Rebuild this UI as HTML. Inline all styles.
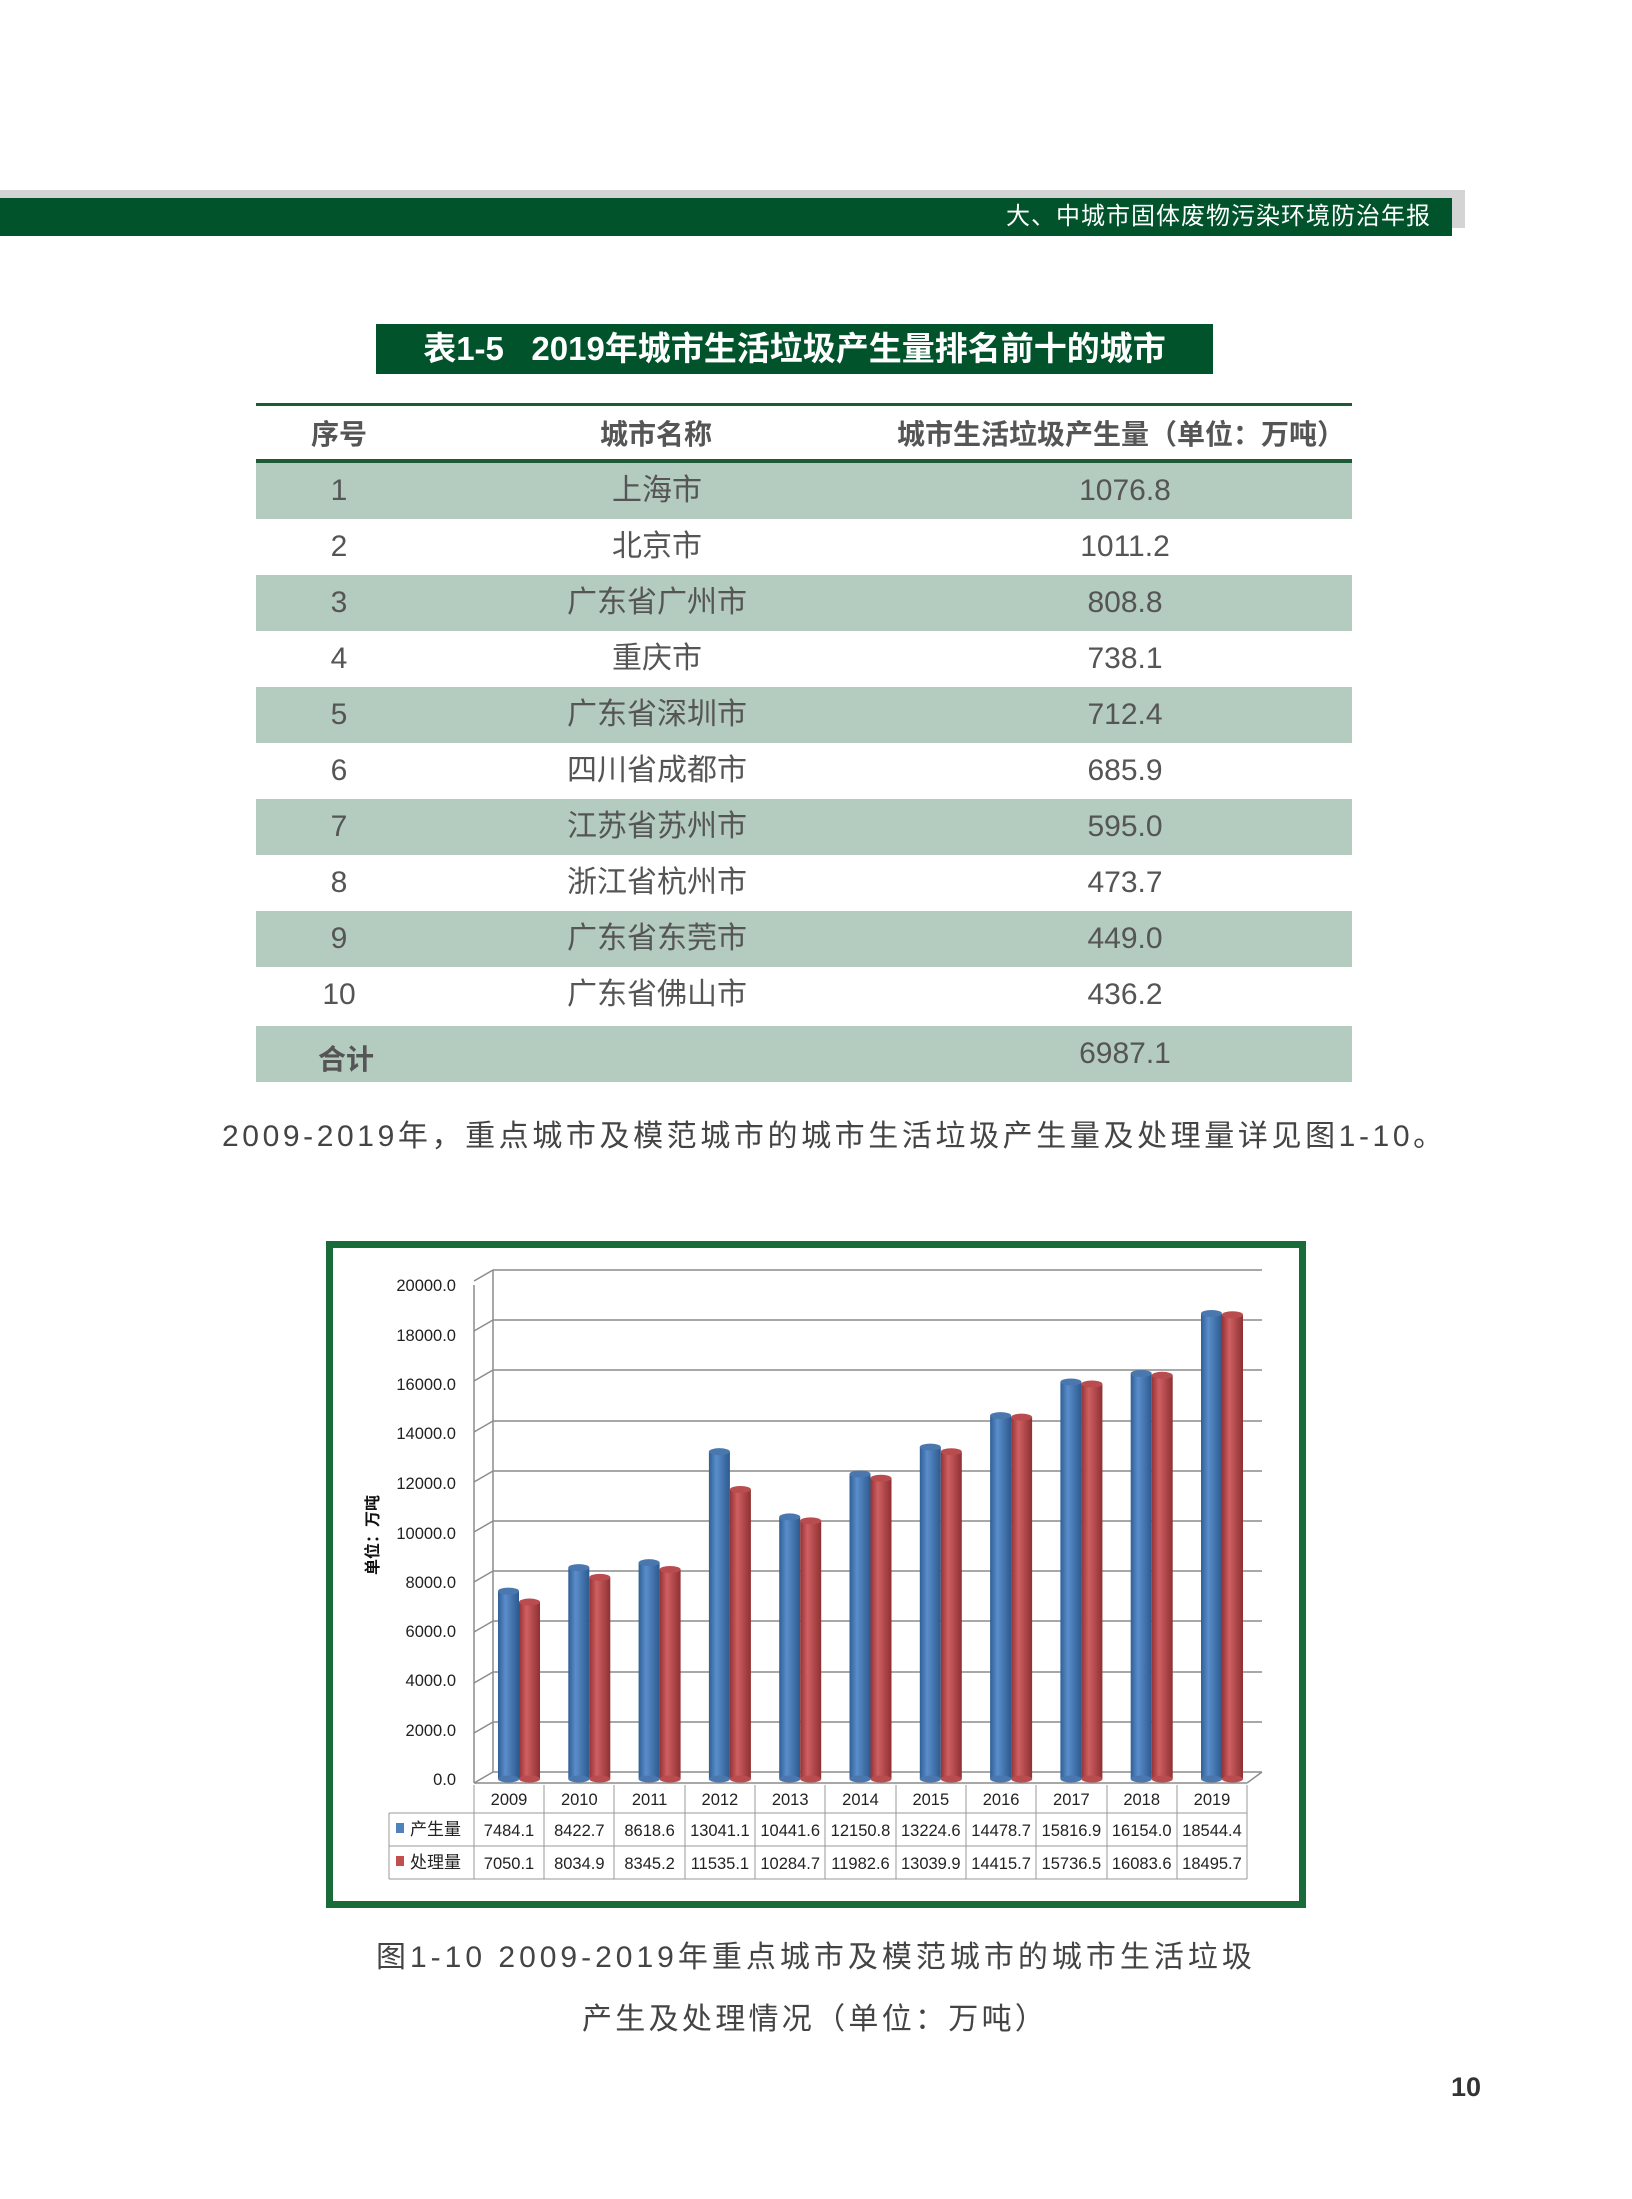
<!DOCTYPE html>
<html><head><meta charset="utf-8"><style>
body{margin:0;background:#fff;}
#p{position:relative;width:1632px;height:2199px;overflow:hidden;font-family:"Liberation Sans","Noto Sans CJK SC",sans-serif;}
.a{position:absolute;white-space:nowrap;}
.row{position:absolute;left:256px;width:1096px;height:56px;}
.g{background:#b4cbbf;}
.c{position:absolute;color:#555;font-size:30px;line-height:56px;text-align:center;}
</style></head><body><div id="p">
<div class="a" style="left:0;top:190px;width:1465px;height:38px;background:#d4d4d4"></div>
<div class="a" style="left:0;top:198px;width:1452px;height:38px;background:#00532b"></div>
<div class="a" style="left:960px;top:202px;width:471px;text-align:right;color:#fff;font-size:24px;letter-spacing:1px;line-height:30px">大、中城市固体废物污染环境防治年报</div>
<div class="a" style="left:376px;top:324px;width:837px;height:50px;background:#00532b;color:#fff;font-weight:bold;font-size:33px;line-height:50px;text-align:center">表1-5&nbsp;&nbsp;&nbsp;2019年城市生活垃圾产生量排名前十的城市</div>
<div class="a" style="left:256px;top:403px;width:1096px;height:3px;background:#1d5a36"></div>
<div class="a" style="left:256px;top:459px;width:1096px;height:4px;background:#1d5a36"></div>
<div class="row" style="top:407px"><div class="c" style="left:30px;width:106px;font-weight:bold;font-size:28px">序号</div><div class="c" style="left:300px;width:200px;font-weight:bold;font-size:28px">城市名称</div><div class="c" style="left:630px;width:470px;font-weight:bold;font-size:28px">城市生活垃圾产生量（单位：万吨）</div></div>
<div class="row g" style="top:463px"><div class="c" style="left:33px;width:100px">1</div><div class="c" style="left:301px;width:200px">上海市</div><div class="c" style="left:769px;width:200px">1076.8</div></div>
<div class="row" style="top:519px"><div class="c" style="left:33px;width:100px">2</div><div class="c" style="left:301px;width:200px">北京市</div><div class="c" style="left:769px;width:200px">1011.2</div></div>
<div class="row g" style="top:575px"><div class="c" style="left:33px;width:100px">3</div><div class="c" style="left:301px;width:200px">广东省广州市</div><div class="c" style="left:769px;width:200px">808.8</div></div>
<div class="row" style="top:631px"><div class="c" style="left:33px;width:100px">4</div><div class="c" style="left:301px;width:200px">重庆市</div><div class="c" style="left:769px;width:200px">738.1</div></div>
<div class="row g" style="top:687px"><div class="c" style="left:33px;width:100px">5</div><div class="c" style="left:301px;width:200px">广东省深圳市</div><div class="c" style="left:769px;width:200px">712.4</div></div>
<div class="row" style="top:743px"><div class="c" style="left:33px;width:100px">6</div><div class="c" style="left:301px;width:200px">四川省成都市</div><div class="c" style="left:769px;width:200px">685.9</div></div>
<div class="row g" style="top:799px"><div class="c" style="left:33px;width:100px">7</div><div class="c" style="left:301px;width:200px">江苏省苏州市</div><div class="c" style="left:769px;width:200px">595.0</div></div>
<div class="row" style="top:855px"><div class="c" style="left:33px;width:100px">8</div><div class="c" style="left:301px;width:200px">浙江省杭州市</div><div class="c" style="left:769px;width:200px">473.7</div></div>
<div class="row g" style="top:911px"><div class="c" style="left:33px;width:100px">9</div><div class="c" style="left:301px;width:200px">广东省东莞市</div><div class="c" style="left:769px;width:200px">449.0</div></div>
<div class="row" style="top:967px"><div class="c" style="left:33px;width:100px">10</div><div class="c" style="left:301px;width:200px">广东省佛山市</div><div class="c" style="left:769px;width:200px">436.2</div></div>
<div class="row g" style="top:1026px"><div class="c" style="left:40px;width:100px;font-weight:bold;font-size:28px;top:6px">合计</div><div class="c" style="left:769px;width:200px">6987.1</div></div>
<div class="a" style="left:222px;top:1117px;font-size:30px;color:#444;line-height:40px;letter-spacing:3.6px">2009-2019年，重点城市及模范城市的城市生活垃圾产生量及处理量详见图1-10。</div>

<svg class="a" style="left:0;top:0" width="1632" height="2199" viewBox="0 0 1632 2199" font-family="Liberation Sans, Noto Sans CJK SC, sans-serif">
<defs>
<linearGradient id="b" x1="0" x2="1"><stop offset="0" stop-color="#2f5f96"/><stop offset="0.35" stop-color="#5a8dcb"/><stop offset="1" stop-color="#2d5a8e"/></linearGradient>
<linearGradient id="r" x1="0" x2="1"><stop offset="0" stop-color="#943335"/><stop offset="0.35" stop-color="#cf5f62"/><stop offset="1" stop-color="#8e3032"/></linearGradient>
</defs>
<rect x="329.5" y="1244.5" width="973" height="660" fill="#fff" stroke="#1a6b3a" stroke-width="7"/>
<g stroke="#8c8c8c" stroke-width="1.5" fill="none">
<path d="M474 1285V1783M493 1270V1772"/>
<path d="M493 1772H1262M474 1783L493 1772M1247 1783L1262 1772M474 1783H1247"/>
<path d="M493 1270H1262M474 1281L493 1270"/>
<path d="M493 1320H1262M474 1331L493 1320"/>
<path d="M493 1370H1262M474 1381L493 1370"/>
<path d="M493 1421H1262M474 1432L493 1421"/>
<path d="M493 1471H1262M474 1482L493 1471"/>
<path d="M493 1521H1262M474 1532L493 1521"/>
<path d="M493 1571H1262M474 1582L493 1571"/>
<path d="M493 1621H1262M474 1632L493 1621"/>
<path d="M493 1672H1262M474 1683L493 1672"/>
<path d="M493 1722H1262M474 1733L493 1722"/>
</g>
<g font-size="16.5" fill="#222" text-anchor="end">
<text x="456" y="1291">20000.0</text><text x="456" y="1341">18000.0</text><text x="456" y="1390">16000.0</text><text x="456" y="1439">14000.0</text><text x="456" y="1489">12000.0</text><text x="456" y="1539">10000.0</text><text x="456" y="1588">8000.0</text><text x="456" y="1637">6000.0</text><text x="456" y="1686">4000.0</text><text x="456" y="1736">2000.0</text><text x="456" y="1785">0.0</text>
</g>
<text transform="translate(378 1535) rotate(-90)" font-size="16" font-weight="bold" text-anchor="middle" fill="#111">单位：万吨</text>
<g id="bars"></g>
<g stroke="#999" stroke-width="1" fill="none">
<path d="M474 1785V1879M389 1813H1247M389 1846H1247M389 1879H1247M389 1813V1879M1247 1785V1879"/>
<path d="M544 1785V1879M614 1785V1879M685 1785V1879M755 1785V1879M825 1785V1879M896 1785V1879M966 1785V1879M1036 1785V1879M1107 1785V1879M1177 1785V1879"/>
</g>
<g font-size="16.5" fill="#222" text-anchor="middle" id="tbl"></g>
<rect x="396" y="1823" width="8" height="10" fill="#4f81bd"/><text x="410" y="1835" font-size="17" fill="#222">产生量</text>
<rect x="396" y="1856" width="8" height="10" fill="#c0504d"/><text x="410" y="1868" font-size="17" fill="#222">处理量</text>
</svg>
<div class="a" style="left:376px;top:1938px;font-size:30px;color:#444;line-height:40px;letter-spacing:4px">图1-10 2009-2019年重点城市及模范城市的城市生活垃圾</div>
<div class="a" style="left:582px;top:2000px;font-size:30px;color:#444;line-height:40px;letter-spacing:3.3px">产生及处理情况（单位：万吨）</div>
<div class="a" style="left:1451px;top:2072px;font-size:27px;font-weight:bold;color:#333">10</div>
<script>
var P=[7484.1,8422.7,8618.6,13041.1,10441.6,12150.8,13224.6,14478.7,15816.9,16154.0,18544.4];
var T=[7050.1,8034.9,8345.2,11535.1,10284.7,11982.6,13039.9,14415.7,15736.5,16083.6,18495.7];
var ns="http://www.w3.org/2000/svg",g=document.getElementById('bars'),t=document.getElementById('tbl');
function el(p,n,a,txt){var e=document.createElementNS(ns,n);for(var k in a)e.setAttribute(k,a[k]);if(txt)e.textContent=txt;p.appendChild(e);}
function bar(x,v,f,tc){var top=1779-v*0.0251;el(g,'rect',{x:x,y:top,width:21,height:1779-top,fill:'url(#'+f+')'});el(g,'ellipse',{cx:x+10.5,cy:top,rx:10.5,ry:3.5,fill:tc});el(g,'ellipse',{cx:x+10.5,cy:1779,rx:10.5,ry:3.5,fill:tc});}
for(var i=0;i<11;i++){var cl=474+i*70.3;bar(cl+24,P[i],'b','#4a78ae');bar(cl+45,T[i],'r','#b94c4f');
var cx=cl+35;el(t,'text',{x:cx,y:1805},String(2009+i));el(t,'text',{x:cx,y:1836},P[i].toFixed(1));el(t,'text',{x:cx,y:1869},T[i].toFixed(1));}
</script>
</div></body></html>
